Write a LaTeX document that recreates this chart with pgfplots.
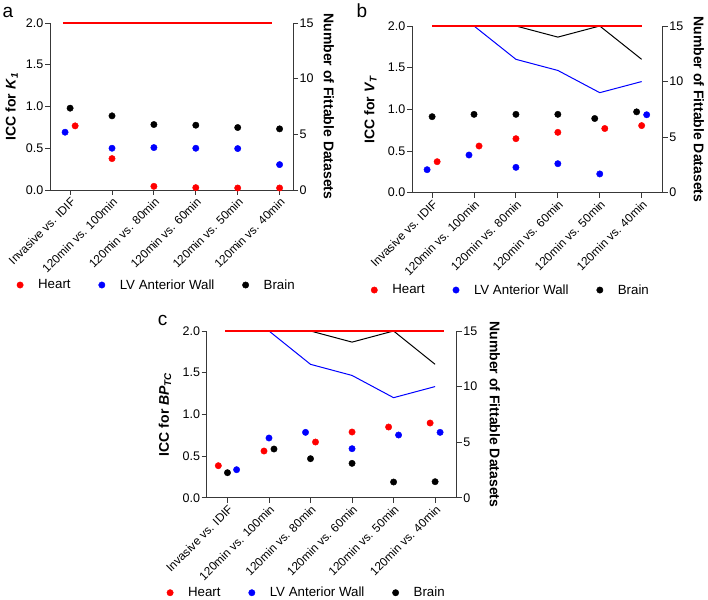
\documentclass[border=0pt]{standalone}
\usepackage{fontspec}
\setmainfont{Liberation Sans}
\usepackage{pgfplots}
\pgfplotsset{compat=1.18}

\definecolor{axisgray}{gray}{0.22}
\definecolor{hred}{RGB}{255,0,0}
\definecolor{lvblue}{RGB}{0,0,255}

\pgfplotsset{
  common/.style={
    scale only axis, anchor=south west, clip=false,
    axis line style={axisgray, line width=0.9pt},
    every tick/.style={axisgray, line width=0.9pt},
    tick align=outside, major tick length=5pt,
    /pgf/number format/assume math mode=true,
  },
  iccaxis/.style={
    common,
    ymin=0, ymax=2,
    axis x line*=bottom, axis y line*=left,
    xtick={0,...,5},
    xticklabels={Invasive vs. IDIF, 120min vs. 100min, 120min vs. 80min,
                 120min vs. 60min, 120min vs. 50min, 120min vs. 40min},
    x tick label style={rotate=45, anchor=north east, inner sep=1pt,
                        font=\fontsize{11.8}{12}\selectfont},
    ytick={0,0.5,1,1.5,2},
    y tick label style={font=\fontsize{12.5}{13}\selectfont, inner sep=1.5pt},
    yticklabel={\pgfmathprintnumber[fixed, fixed zerofill, precision=1]{\tick}},
    legend columns=3,
    legend image code/.code={\draw[##1] plot coordinates {(3.2pt,0pt)};},
    legend style={draw=none, fill=none, inner sep=0pt, anchor=west,
                  font=\fontsize{13.3}{14}\selectfont,
                  nodes={inner sep=0pt},
                  /tikz/every odd column/.append style={column sep=14.8pt},
                  /tikz/every even column/.append style={column sep=28pt}},
  },
  countaxis/.style={
    common,
    ymin=0, ymax=15,
    axis x line=none, axis y line*=right,
    ytick={0,5,10,15},
    y tick label style={font=\fontsize{12.5}{13}\selectfont, inner sep=1.5pt},
    ylabel={\textbf{Number of Fittable Datasets}},
  },
  heart/.style={only marks, mark=*, mark size=3.2pt, color=hred},
  lvwall/.style={only marks, mark=*, mark size=3.2pt, color=lvblue},
  brain/.style={only marks, mark=*, mark size=3.2pt, color=black},
  count/.style={line width=1pt, no marks},
  heartcount/.style={line width=1.3pt, no marks, draw=hred},
}

\begin{document}
\begin{tikzpicture}
\useasboundingbox (0pt,0pt) rectangle (708pt,599pt);

% ---------------- panel a: K1 ----------------
\begin{axis}[iccaxis, at={(50pt,409pt)}, width=243pt, height=167pt,
    xmin=-0.48, xmax=5.32,
    every axis y label/.style={at={(axis description cs:-0.158,0.5)}, rotate=90, anchor=center,
                               font=\fontsize{14}{15}\selectfont},
    ylabel={\textbf{ICC for \textit{K}\textsubscript{\textit{1}}}},
    legend style={at={(axis description cs:-0.137,-0.569)}}]
\addplot[heart]  coordinates {(0.12,0.768) (1,0.376) (2,0.044) (3,0.028) (4,0.024) (5,0.024)};
\addlegendentry{Heart}
\addplot[lvwall] coordinates {(-0.12,0.692) (1,0.500) (2,0.508) (3,0.500) (4,0.496) (5,0.304)};
\addlegendentry{LV Anterior Wall}
\addplot[brain]  coordinates {(0,0.980) (1,0.888) (2,0.784) (3,0.776) (4,0.748) (5,0.732)};
\addlegendentry{Brain}
\end{axis}
\begin{axis}[countaxis, at={(50pt,409pt)}, width=243pt, height=167pt,
    xmin=-0.48, xmax=5.32,
    every axis y label/.style={at={(axis description cs:1.148,0.5)}, rotate=-90, anchor=center,
                               font=\fontsize{14}{15}\selectfont}]
\addplot[heartcount] coordinates {(-0.17,15) (4.81,15)};
\end{axis}

% ---------------- panel b: VT ----------------
\begin{axis}[iccaxis, at={(412pt,406.3pt)}, width=250.6pt, height=166.7pt,
    xmin=-0.48, xmax=5.5,
    every axis y label/.style={at={(axis description cs:-0.166,0.5)}, rotate=90, anchor=center,
                               font=\fontsize{14}{15}\selectfont},
    ylabel={\textbf{ICC for \textit{V}\textsubscript{\textit{T}}}},
    legend style={at={(axis description cs:-0.164,-0.584)}}]
\addplot[heart]  coordinates {(0.12,0.372) (1.12,0.560) (2,0.648) (3,0.724) (4.12,0.770) (5,0.805)};
\addlegendentry{Heart}
\addplot[lvwall] coordinates {(-0.12,0.276) (0.88,0.452) (2,0.304) (3,0.348) (4,0.225) (5.12,0.935)};
\addlegendentry{LV Anterior Wall}
\addplot[brain]  coordinates {(0,0.912) (1,0.940) (2,0.940) (3,0.940) (3.88,0.890) (4.88,0.970)};
\addlegendentry{Brain}
\end{axis}
\begin{axis}[countaxis, at={(412pt,406.3pt)}, width=250.6pt, height=166.7pt,
    xmin=-0.48, xmax=5.5,
    every axis y label/.style={at={(axis description cs:1.145,0.5)}, rotate=-90, anchor=center,
                               font=\fontsize{14}{15}\selectfont}]
\addplot[count, black]  coordinates {(0,15) (1,15) (2,15) (3,14) (4,15) (5,12)};
\addplot[count, lvblue] coordinates {(0,15) (1,15) (2,12) (3,11) (4,9) (5,10)};
\addplot[heartcount]    coordinates {(0,15) (5,15)};
\end{axis}

% ---------------- panel c: BPTC ----------------
\begin{axis}[iccaxis, at={(206.7pt,101.3pt)}, width=250pt, height=166.7pt,
    xmin=-0.5, xmax=5.52,
    every axis y label/.style={at={(axis description cs:-0.167,0.5)}, rotate=90, anchor=center,
                               font=\fontsize{14}{15}\selectfont},
    ylabel={\textbf{ICC for \textit{BP}\textsubscript{\textit{TC}}}},
    legend style={at={(axis description cs:-0.16,-0.57)}}]
\addplot[heart]  coordinates {(-0.22,0.384) (0.88,0.560) (2.12,0.668) (3,0.788) (3.88,0.848) (4.88,0.896)};
\addlegendentry{Heart}
\addplot[lvwall] coordinates {(0.22,0.336) (1,0.716) (1.88,0.784) (3,0.588) (4.12,0.752) (5.12,0.784)};
\addlegendentry{LV Anterior Wall}
\addplot[brain]  coordinates {(0,0.300) (1.12,0.584) (2,0.468) (3,0.412) (4,0.188) (5,0.192)};
\addlegendentry{Brain}
\end{axis}
\begin{axis}[countaxis, at={(206.7pt,101.3pt)}, width=250pt, height=166.7pt,
    xmin=-0.5, xmax=5.52,
    every axis y label/.style={at={(axis description cs:1.153,0.5)}, rotate=-90, anchor=center,
                               font=\fontsize{14}{15}\selectfont}]
\addplot[count, black]  coordinates {(0,15) (1,15) (2,15) (3,14) (4,15) (5,12)};
\addplot[count, lvblue] coordinates {(0,15) (1,15) (2,12) (3,11) (4,9) (5,10)};
\addplot[heartcount]    coordinates {(-0.05,15) (5.22,15)};
\end{axis}

% panel letters
\node[font=\fontsize{19}{20}\selectfont] at (8pt,587pt) {a};
\node[font=\fontsize{19}{20}\selectfont] at (362pt,588pt) {b};
\node[font=\fontsize{19}{20}\selectfont] at (162.5pt,279pt) {c};
\end{tikzpicture}
\end{document}
